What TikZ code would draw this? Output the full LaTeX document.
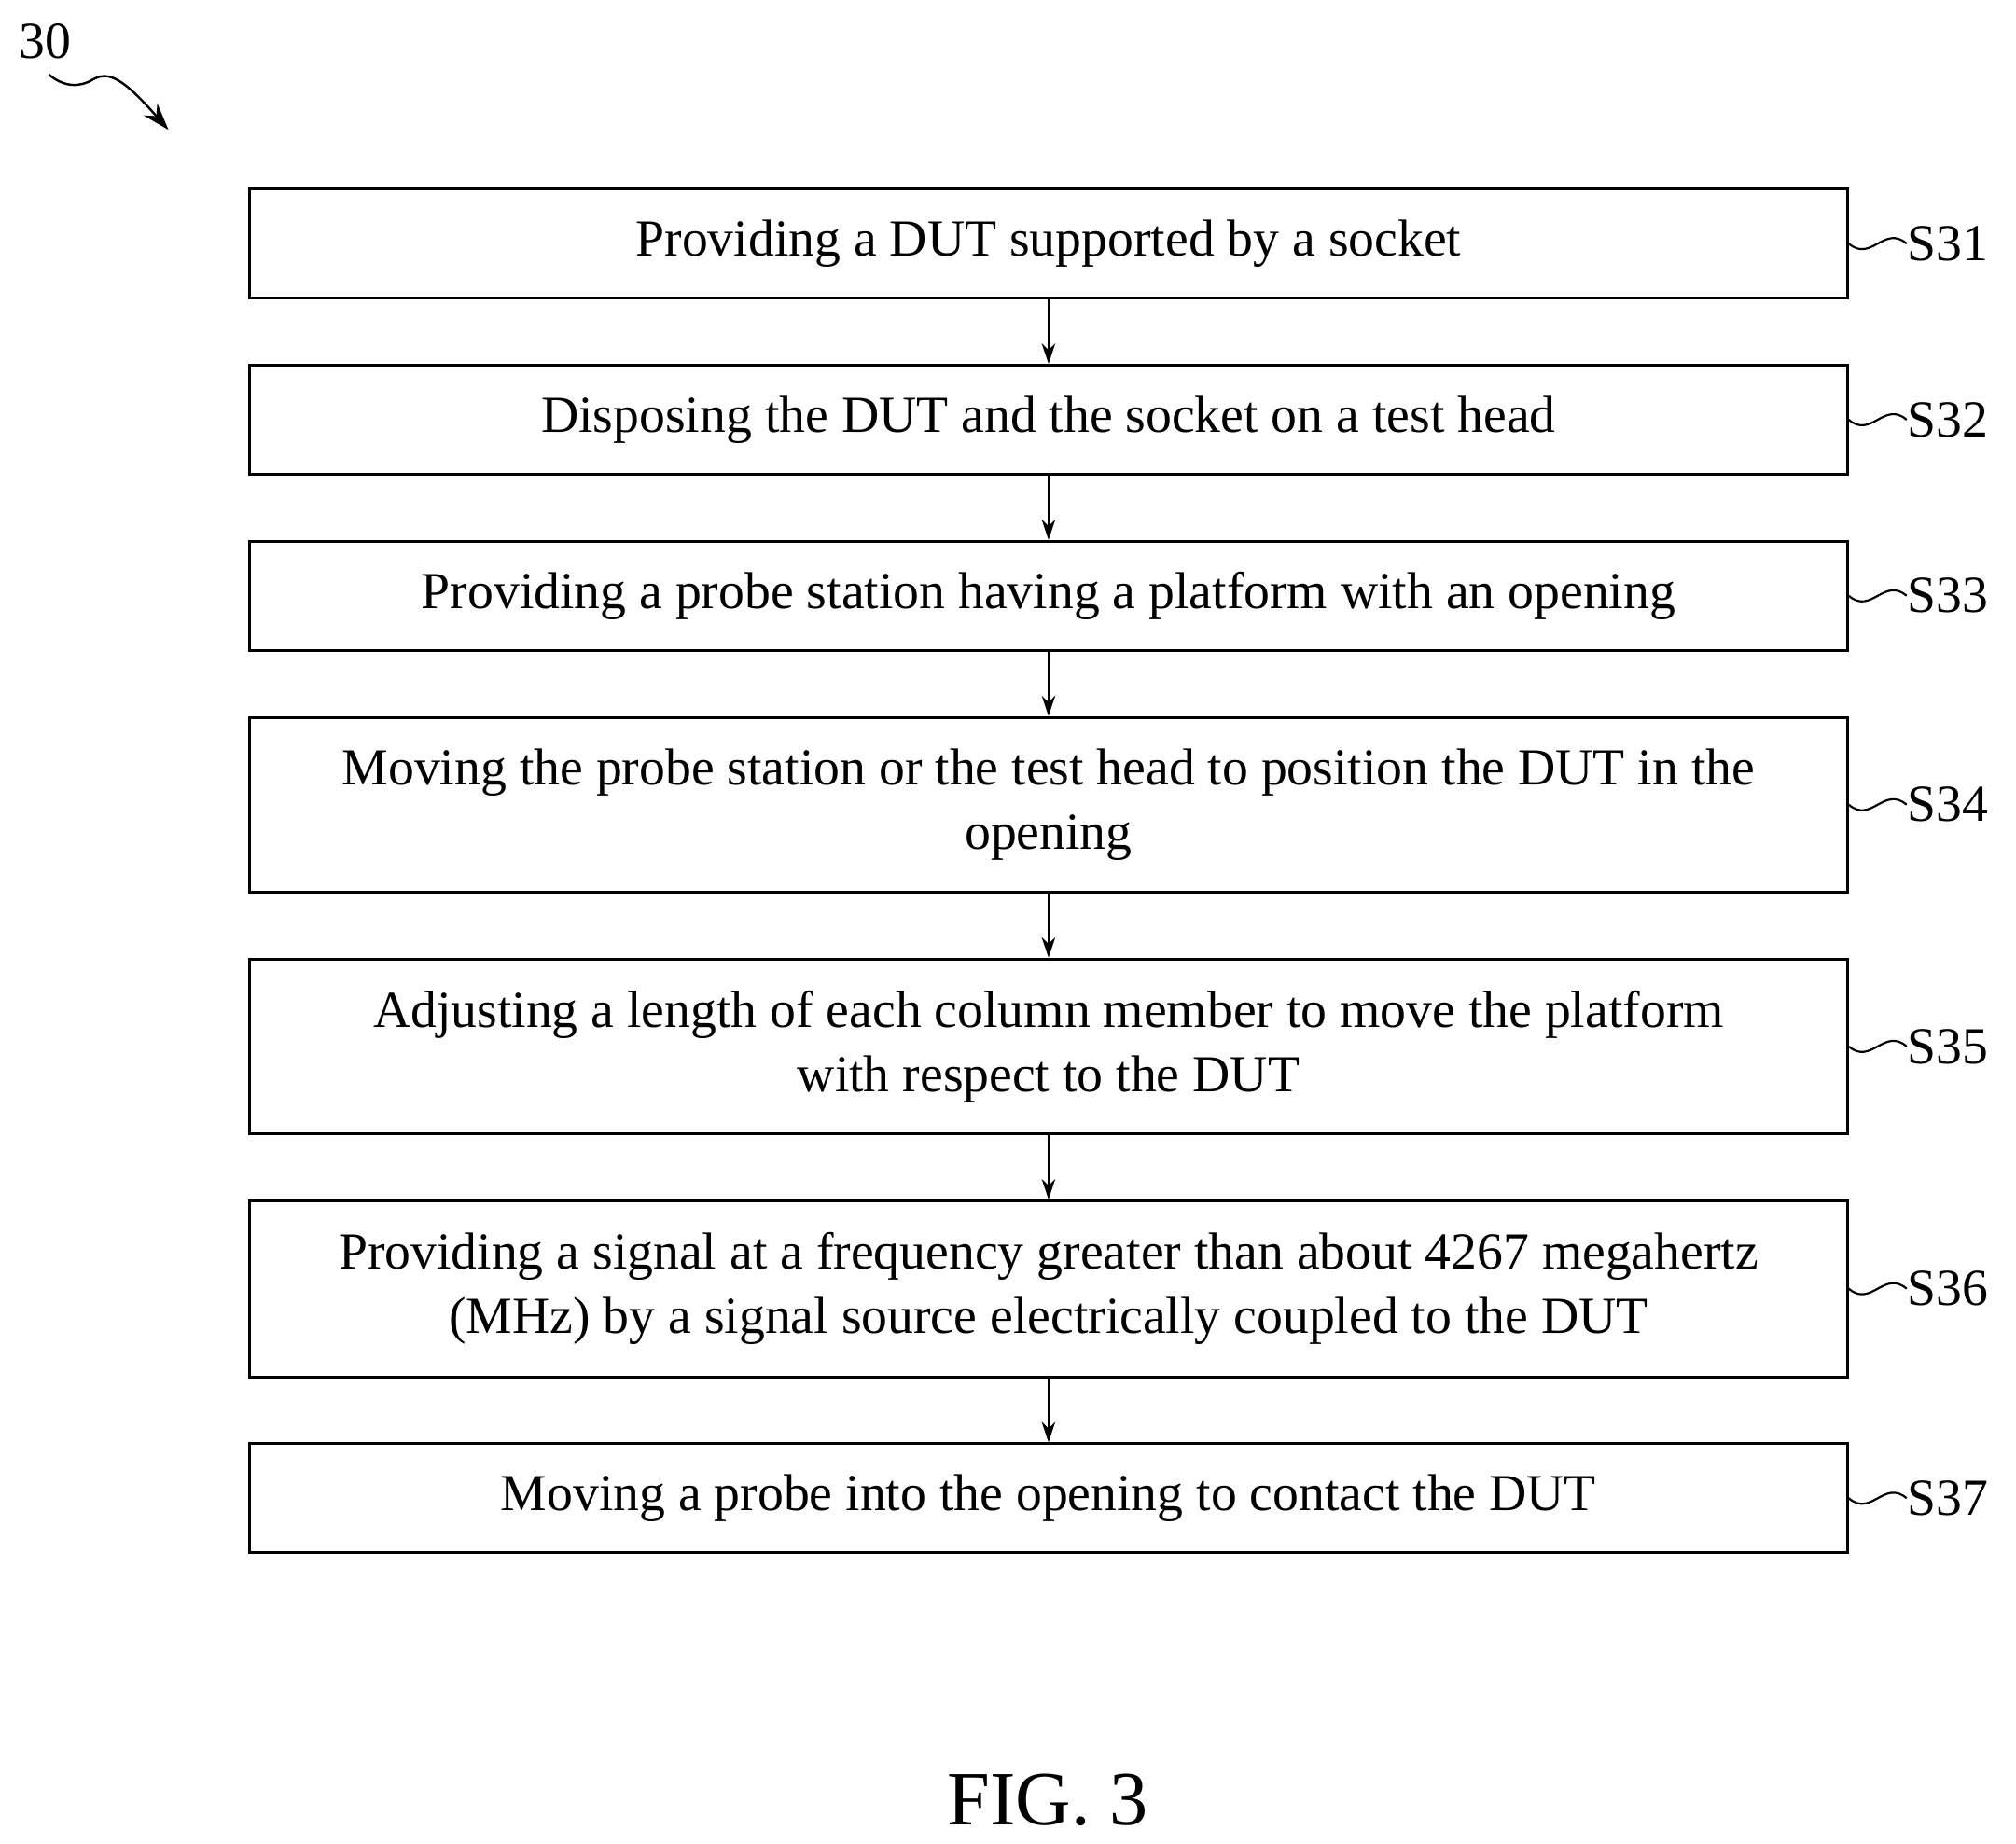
\documentclass[tikz,border=0pt]{standalone}
\usepackage{fontspec}
\setmainfont{Liberation Serif}
\usetikzlibrary{arrows.meta}
\begin{document}
\begin{tikzpicture}[x=0.02cm,y=-0.02cm,
  box/.style={draw,line width=1.2pt,minimum width=24.86cm,align=center,inner sep=0pt,font=\fontsize{23}{28.5}\selectfont},
  lab/.style={anchor=west,inner sep=0pt,font=\fontsize{23}{28}\selectfont},
  arr/.style={line width=1pt,-{Stealth[length=9pt,width=6pt]}},
  tl/.style={line width=0.9pt}]
\useasboundingbox (0,0) rectangle (1568,1434);
\node[box,minimum height=1.7cm] (b1) at (815.5,189.5) {Providing a DUT supported by a socket};
\node[box,minimum height=1.7cm] (b2) at (815.5,326.5) {Disposing the DUT and the socket on a test head};
\node[box,minimum height=1.7cm] (b3) at (815.5,463.5) {Providing a probe station having a platform with an opening};
\node[box,minimum height=2.72cm] (b4) at (815.5,626) {Moving the probe station or the test head to position the DUT in the\\opening};
\node[box,minimum height=2.72cm] (b5) at (815.5,814) {Adjusting a length of each column member to move the platform\\with respect to the DUT};
\node[box,minimum height=2.74cm] (b6) at (815.5,1002.5) {Providing a signal at a frequency greater than about 4267 megahertz\\(MHz) by a signal source electrically coupled to the DUT};
\node[box,minimum height=1.7cm] (b7) at (815.5,1165.5) {Moving a probe into the opening to contact the DUT};
\foreach \a/\b in {b1/b2,b2/b3,b3/b4,b4/b5,b5/b6,b6/b7} \draw[arr] (\a.south) -- (\b.north);
\foreach \b/\t in {b1/S31,b2/S32,b3/S33,b4/S34,b5/S35,b6/S36,b7/S37}{
  \node[lab] (l\b) at ([xshift=0.9cm]\b.east) {\t};
  \draw[tl] (\b.east) .. controls ++(0.35cm,-0.3cm) and ++(-0.35cm,0.3cm) .. (l\b.west);
}
\node[font=\fontsize{23}{28}\selectfont] (n30) at (35,32) {30};
\coordinate (tip) at (131,101);
\draw[line width=1pt,-{Stealth[length=12pt,width=8pt]}] (38,58) .. controls (50,68) and (62,68) .. (72,62) .. controls (84,55) and (95,60) .. (tip);
\node[font=\fontsize{34}{40}\selectfont] (fig) at (815,1400) {FIG. 3};
\end{tikzpicture}
\end{document}
